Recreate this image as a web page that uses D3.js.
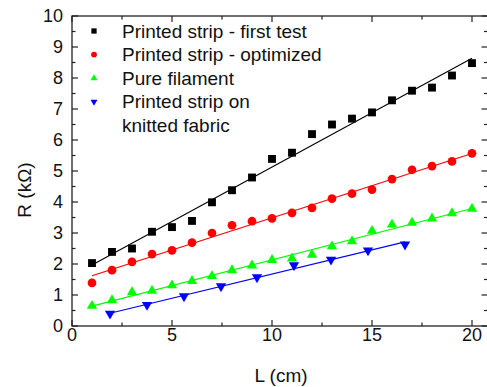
<!DOCTYPE html>
<html>
<head>
<meta charset="utf-8">
<script src="https://cdn.jsdelivr.net/npm/d3@7"></script>
<style>
  body { margin: 0; background: #fff; }
  text { font-family: "Liberation Sans", Arial, sans-serif; fill: #111; }
</style>
</head>
<body>
<div id="chart"></div>
<script>
// Data
var lengthSteps = [1, 2, 3, 4, 5, 6, 7, 8, 9, 10, 11, 12, 13, 14, 15, 16, 17, 18, 19, 20];
var firstTest = [2.03, 2.39, 2.50, 3.04, 3.19, 3.39, 3.99, 4.38, 4.79, 5.39,
                 5.59, 6.19, 6.50, 6.69, 6.89, 7.28, 7.59, 7.69, 8.08, 8.48];
var optimized = [1.39, 1.80, 2.07, 2.32, 2.44, 2.69, 3.00, 3.25, 3.38, 3.47,
                 3.65, 3.81, 4.11, 4.27, 4.40, 4.74, 5.04, 5.16, 5.31, 5.57];
var filament = [0.65, 0.83, 1.09, 1.14, 1.31, 1.45, 1.61, 1.80, 1.95, 2.13,
                2.18, 2.30, 2.57, 2.73, 3.07, 3.27, 3.33, 3.47, 3.64, 3.78];
var fabricLength = [1.9, 3.75, 5.6, 7.45, 9.25, 11.1, 12.95, 14.8, 16.65];
var fabric = [0.40, 0.68, 0.96, 1.28, 1.57, 1.96, 2.14, 2.44, 2.63];

var xTicks = [0, 5, 10, 15, 20];
var yTicks = [0, 1, 2, 3, 4, 5, 6, 7, 8, 9, 10];

var seriesList = [
    { name: ["Printed strip - first test"], xs: lengthSteps, ys: firstTest, color: "#000000", shape: "square" },
    { name: ["Printed strip - optimized"], xs: lengthSteps, ys: optimized, color: "#ff0000", shape: "circle" },
    { name: ["Pure filament"], xs: lengthSteps, ys: filament, color: "#00ff00", shape: "up" },
    { name: ["Printed strip on", "knitted fabric"], xs: fabricLength, ys: fabric, color: "#0000ff", shape: "down" }
];

function drawChart() {
    const width = 487, height = 387;
    const margin = { left: 72, top: 16, right: -1, bottom: 61 };

    const svg = d3.select("#chart").append("svg")
        .attr("width", width)
        .attr("height", height);

    const x = d3.scaleLinear().domain([0, 20.8]).range([margin.left, width - margin.right]);
    const y = d3.scaleLinear().domain([0, 10]).range([height - margin.bottom, margin.top]);

    const axisColor = "#222";

    // frame
    svg.append("rect")
        .attr("x", x(0)).attr("y", y(10))
        .attr("width", x(20.8) - x(0)).attr("height", y(0) - y(10))
        .attr("fill", "none").attr("stroke", axisColor).attr("stroke-width", 1.3);

    // minor + major ticks, all pointing inward
    const xMinor = d3.range(0, 20.01, 2.5);
    const yMinor = d3.range(0, 10.01, 0.5);
    const tickG = svg.append("g").attr("stroke", axisColor).attr("stroke-width", 1.2);
    xMinor.forEach(function(v) {
        const len = (v % 5 === 0) ? 6 : 3.5;
        tickG.append("line").attr("x1", x(v)).attr("x2", x(v)).attr("y1", y(0)).attr("y2", y(0) - len);
        tickG.append("line").attr("x1", x(v)).attr("x2", x(v)).attr("y1", y(10)).attr("y2", y(10) + len);
    });
    yMinor.forEach(function(v) {
        const len = (Math.abs(v - Math.round(v)) < 1e-6) ? 6 : 3.5;
        tickG.append("line").attr("x1", x(0)).attr("x2", x(0) + len).attr("y1", y(v)).attr("y2", y(v));
        tickG.append("line").attr("x1", x(20.8) - 0.5).attr("x2", x(20.8) - 0.5 - len).attr("y1", y(v)).attr("y2", y(v));
    });

    // tick labels
    svg.append("g").selectAll("text").data(xTicks).enter().append("text")
        .attr("x", (d) => x(d)).attr("y", y(0) + 15)
        .attr("text-anchor", "middle")
        .style("font-size", "18px")
        .text((d) => d);
    svg.append("g").selectAll("text").data(yTicks).enter().append("text")
        .attr("x", x(0) - 9).attr("y", (d) => y(d) + 6.3)
        .attr("text-anchor", "end")
        .style("font-size", "18px")
        .text((d) => d);

    // axis titles
    svg.append("text")
        .attr("x", 281).attr("y", 382)
        .attr("text-anchor", "middle")
        .style("font-size", "19px")
        .text("L (cm)");
    svg.append("text")
        .attr("transform", "translate(31,190) rotate(-90)")
        .attr("text-anchor", "middle")
        .style("font-size", "19px")
        .text("R (k\u03a9)");

    function symbolFor(shape, scale) {
        if (shape === "square") return d3.symbol(d3.symbolSquare, 62 * scale);
        if (shape === "circle") return d3.symbol(d3.symbolCircle, 60 * scale);
        return d3.symbol(d3.symbolTriangle, 46 * scale);
    }

    // linear fits and markers
    seriesList.forEach(function(s) {
        const pts = s.xs.map((v, i) => [v, s.ys[i]]);
        const mx = d3.mean(s.xs), my = d3.mean(s.ys);
        const slope = d3.sum(pts, (p) => (p[0] - mx) * (p[1] - my)) / d3.sum(pts, (p) => (p[0] - mx) * (p[0] - mx));
        const icpt = my - slope * mx;
        const x0 = d3.min(s.xs), x1 = d3.max(s.xs);
        svg.append("line")
            .attr("x1", x(x0)).attr("y1", y(icpt + slope * x0))
            .attr("x2", x(x1)).attr("y2", y(icpt + slope * x1))
            .attr("stroke", s.color).attr("stroke-width", 1.1);

        svg.append("g").selectAll("path").data(pts).enter().append("path")
            .attr("d", symbolFor(s.shape, 1))
            .attr("transform", (p) => "translate(" + x(p[0]) + "," + y(p[1]) + ")" + (s.shape === "down" ? " rotate(180)" : ""))
            .attr("fill", s.color);
    });

    // legend
    const legend = svg.append("g");
    let row = 0;
    seriesList.forEach(function(s) {
        const cy = 31 + row * 23.6;
        legend.append("path")
            .attr("d", symbolFor(s.shape, 0.45))
            .attr("transform", "translate(94," + cy + ")" + (s.shape === "down" ? " rotate(180)" : ""))
            .attr("fill", s.color);
        s.name.forEach(function(line, k) {
            legend.append("text")
                .attr("x", 122).attr("y", cy + 6.5 + k * 23.6)
                .style("font-size", "19px")
                .text(line);
        });
        row += s.name.length;
    });
}

drawChart();
</script>
</body>
</html>
